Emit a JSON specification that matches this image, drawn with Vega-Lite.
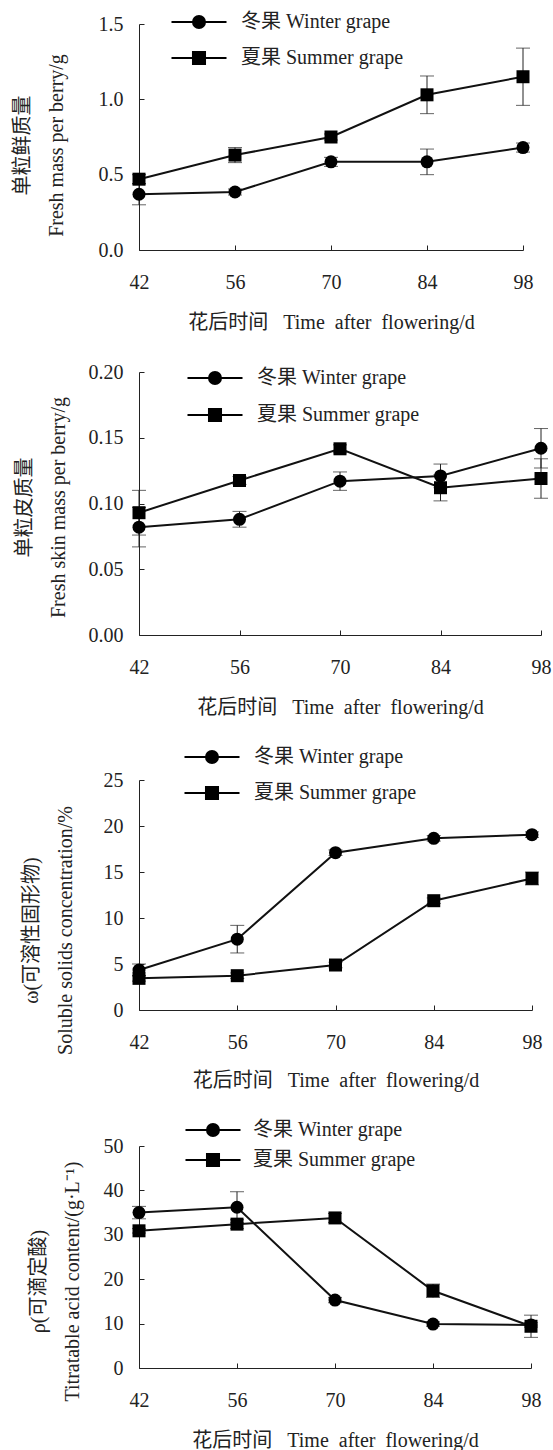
{
  "$schema": "https://vega.github.io/schema/vega-lite/v6.json",
  "background": "white",
  "padding": {"left": 12, "top": 12, "right": 0, "bottom": 0},
  "spacing": 30,
  "resolve": {"scale": {"shape": "independent"}, "legend": {"shape": "independent"}},
  "data": {"values": [
    {"panel": 1, "day": 42, "series": "冬果 Winter grape", "value": 0.37, "err": 0.07},
    {"panel": 1, "day": 56, "series": "冬果 Winter grape", "value": 0.385, "err": 0.02},
    {"panel": 1, "day": 70, "series": "冬果 Winter grape", "value": 0.585, "err": 0.03},
    {"panel": 1, "day": 84, "series": "冬果 Winter grape", "value": 0.585, "err": 0.085},
    {"panel": 1, "day": 98, "series": "冬果 Winter grape", "value": 0.68, "err": 0.03},
    {"panel": 1, "day": 42, "series": "夏果 Summer grape", "value": 0.47, "err": 0.03},
    {"panel": 1, "day": 56, "series": "夏果 Summer grape", "value": 0.63, "err": 0.05},
    {"panel": 1, "day": 70, "series": "夏果 Summer grape", "value": 0.75, "err": 0.02},
    {"panel": 1, "day": 84, "series": "夏果 Summer grape", "value": 1.03, "err": 0.125},
    {"panel": 1, "day": 98, "series": "夏果 Summer grape", "value": 1.15, "err": 0.19},
    {"panel": 2, "day": 42, "series": "冬果 Winter grape", "value": 0.082, "err": 0.015},
    {"panel": 2, "day": 56, "series": "冬果 Winter grape", "value": 0.088, "err": 0.006},
    {"panel": 2, "day": 70, "series": "冬果 Winter grape", "value": 0.117, "err": 0.007},
    {"panel": 2, "day": 84, "series": "冬果 Winter grape", "value": 0.121, "err": 0.009},
    {"panel": 2, "day": 98, "series": "冬果 Winter grape", "value": 0.142, "err": 0.015},
    {"panel": 2, "day": 42, "series": "夏果 Summer grape", "value": 0.093, "err": 0.017},
    {"panel": 2, "day": 56, "series": "夏果 Summer grape", "value": 0.1175, "err": 0.003},
    {"panel": 2, "day": 70, "series": "夏果 Summer grape", "value": 0.1416, "err": 0.003},
    {"panel": 2, "day": 84, "series": "夏果 Summer grape", "value": 0.112, "err": 0.01},
    {"panel": 2, "day": 98, "series": "夏果 Summer grape", "value": 0.119, "err": 0.015},
    {"panel": 3, "day": 42, "series": "冬果 Winter grape", "value": 4.35, "err": 0.65},
    {"panel": 3, "day": 56, "series": "冬果 Winter grape", "value": 7.7, "err": 1.5},
    {"panel": 3, "day": 70, "series": "冬果 Winter grape", "value": 17.1, "err": 0.3},
    {"panel": 3, "day": 84, "series": "冬果 Winter grape", "value": 18.66, "err": 0.3},
    {"panel": 3, "day": 98, "series": "冬果 Winter grape", "value": 19.06, "err": 0.3},
    {"panel": 3, "day": 42, "series": "夏果 Summer grape", "value": 3.44, "err": 0.3},
    {"panel": 3, "day": 56, "series": "夏果 Summer grape", "value": 3.73, "err": 0.3},
    {"panel": 3, "day": 70, "series": "夏果 Summer grape", "value": 4.89, "err": 0.3},
    {"panel": 3, "day": 84, "series": "夏果 Summer grape", "value": 11.88, "err": 0.3},
    {"panel": 3, "day": 98, "series": "夏果 Summer grape", "value": 14.3, "err": 0.7},
    {"panel": 4, "day": 42, "series": "冬果 Winter grape", "value": 35.0, "err": 1.4},
    {"panel": 4, "day": 56, "series": "冬果 Winter grape", "value": 36.2, "err": 3.5},
    {"panel": 4, "day": 70, "series": "冬果 Winter grape", "value": 15.3, "err": 0.6},
    {"panel": 4, "day": 84, "series": "冬果 Winter grape", "value": 9.9, "err": 0.5},
    {"panel": 4, "day": 98, "series": "冬果 Winter grape", "value": 9.7, "err": 0.5},
    {"panel": 4, "day": 42, "series": "夏果 Summer grape", "value": 30.9, "err": 0.5},
    {"panel": 4, "day": 56, "series": "夏果 Summer grape", "value": 32.4, "err": 1.0},
    {"panel": 4, "day": 70, "series": "夏果 Summer grape", "value": 33.8, "err": 1.0},
    {"panel": 4, "day": 84, "series": "夏果 Summer grape", "value": 17.4, "err": 1.5},
    {"panel": 4, "day": 98, "series": "夏果 Summer grape", "value": 9.4, "err": 2.5}
  ]},
  "vconcat": [
    {
      "width": 384, "height": 226,
      "transform": [{"filter": "datum.panel == 1"}],
      "encoding": {
        "x": {"field": "day", "type": "quantitative", "scale": {"domain": [42, 98], "nice": false, "zero": false}, "axis": {"values": [42, 56, 70, 84, 98], "title": "花后时间\u2002 Time\u00a0 after\u00a0 flowering/d"}},
        "y": {"field": "value", "type": "quantitative", "scale": {"domain": [0, 1.5], "nice": false}, "axis": {"values": [0, 0.5, 1, 1.5], "format": ".1f", "title": ["单粒鲜质量", "Fresh mass per berry/g"], "titlePadding": 32, "titleY": 121}}
      },
      "layer": [
        {"mark": {"type": "errorbar", "ticks": {"size": 14, "color": "#222"}, "rule": {"color": "#222", "strokeWidth": 1}}, "encoding": {"yError": {"field": "err"}, "detail": {"field": "series"}}},
        {"mark": {"type": "line", "color": "#111", "strokeWidth": 2}, "encoding": {"detail": {"field": "series"}}},
        {"transform": [{"filter": "datum.series === '冬果 Winter grape'"}], "mark": {"type": "circle", "size": 169, "color": "#000", "opacity": 1}},
        {"transform": [{"filter": "datum.series === '夏果 Summer grape'"}], "mark": {"type": "square", "size": 169, "color": "#000", "opacity": 1}},
        {"mark": {"type": "point", "filled": false, "fill": "#000", "stroke": "#000", "strokeWidth": 2, "opacity": 0, "size": 196},
         "encoding": {"shape": {"field": "series", "type": "nominal", "scale": {"domain": ["冬果 Winter grape", "夏果 Summer grape"], "range": ["M-3.93,0L3.93,0M0.86,0A0.86,0.86,0,1,1,-0.86,0A0.86,0.86,0,1,1,0.86,0Z", "M-3.93,0L3.93,0M-0.86,-0.86L0.86,-0.86L0.86,0.86L-0.86,0.86Z"]},
           "legend": {"orient": "none", "legendX": 22, "legendY": -12, "title": null, "rowPadding": 14, "labelOffset": 32}}}}
      ]
    },
    {
      "width": 402, "height": 263,
      "transform": [{"filter": "datum.panel == 2"}],
      "encoding": {
        "x": {"field": "day", "type": "quantitative", "scale": {"domain": [42, 98], "nice": false, "zero": false}, "axis": {"values": [42, 56, 70, 84, 98], "title": "花后时间\u2002 Time\u00a0 after\u00a0 flowering/d"}},
        "y": {"field": "value", "type": "quantitative", "scale": {"domain": [0, 0.2], "nice": false}, "axis": {"values": [0, 0.05, 0.1, 0.15, 0.2], "format": ".2f", "title": ["单粒皮质量", "Fresh skin mass per berry/g"], "titlePadding": 20, "titleY": 135}}
      },
      "layer": [
        {"mark": {"type": "errorbar", "ticks": {"size": 14, "color": "#222"}, "rule": {"color": "#222", "strokeWidth": 1}}, "encoding": {"yError": {"field": "err"}, "detail": {"field": "series"}}},
        {"mark": {"type": "line", "color": "#111", "strokeWidth": 2}, "encoding": {"detail": {"field": "series"}}},
        {"transform": [{"filter": "datum.series === '冬果 Winter grape'"}], "mark": {"type": "circle", "size": 169, "color": "#000", "opacity": 1}},
        {"transform": [{"filter": "datum.series === '夏果 Summer grape'"}], "mark": {"type": "square", "size": 169, "color": "#000", "opacity": 1}},
        {"mark": {"type": "point", "filled": false, "fill": "#000", "stroke": "#000", "strokeWidth": 2, "opacity": 0, "size": 196},
         "encoding": {"shape": {"field": "series", "type": "nominal", "scale": {"domain": ["冬果 Winter grape", "夏果 Summer grape"], "range": ["M-3.93,0L3.93,0M0.86,0A0.86,0.86,0,1,1,-0.86,0A0.86,0.86,0,1,1,0.86,0Z", "M-3.93,0L3.93,0M-0.86,-0.86L0.86,-0.86L0.86,0.86L-0.86,0.86Z"]},
           "legend": {"orient": "none", "legendX": 38, "legendY": -4, "title": null, "rowPadding": 15, "labelOffset": 32}}}}
      ]
    },
    {
      "width": 393, "height": 230,
      "transform": [{"filter": "datum.panel == 3"}],
      "encoding": {
        "x": {"field": "day", "type": "quantitative", "scale": {"domain": [42, 98], "nice": false, "zero": false}, "axis": {"values": [42, 56, 70, 84, 98], "title": "花后时间\u2002 Time\u00a0 after\u00a0 flowering/d", "titlePadding": 18}},
        "y": {"field": "value", "type": "quantitative", "scale": {"domain": [0, 25], "nice": false}, "axis": {"values": [0, 5, 10, 15, 20, 25], "format": "d", "title": ["ω(可溶性固形物)", "Soluble solids concentration/%"], "titlePadding": 28, "titleY": 150}}
      },
      "layer": [
        {"mark": {"type": "errorbar", "ticks": {"size": 14, "color": "#222"}, "rule": {"color": "#222", "strokeWidth": 1}}, "encoding": {"yError": {"field": "err"}, "detail": {"field": "series"}}},
        {"mark": {"type": "line", "color": "#111", "strokeWidth": 2}, "encoding": {"detail": {"field": "series"}}},
        {"transform": [{"filter": "datum.series === '冬果 Winter grape'"}], "mark": {"type": "circle", "size": 169, "color": "#000", "opacity": 1}},
        {"transform": [{"filter": "datum.series === '夏果 Summer grape'"}], "mark": {"type": "square", "size": 169, "color": "#000", "opacity": 1}},
        {"mark": {"type": "point", "filled": false, "fill": "#000", "stroke": "#000", "strokeWidth": 2, "opacity": 0, "size": 196},
         "encoding": {"shape": {"field": "series", "type": "nominal", "scale": {"domain": ["冬果 Winter grape", "夏果 Summer grape"], "range": ["M-3.93,0L3.93,0M0.86,0A0.86,0.86,0,1,1,-0.86,0A0.86,0.86,0,1,1,0.86,0Z", "M-3.93,0L3.93,0M-0.86,-0.86L0.86,-0.86L0.86,0.86L-0.86,0.86Z"]},
           "legend": {"orient": "none", "legendX": 35, "legendY": -33, "title": null, "rowPadding": 14, "labelOffset": 32}}}}
      ]
    },
    {
      "width": 392, "height": 222,
      "transform": [{"filter": "datum.panel == 4"}],
      "encoding": {
        "x": {"field": "day", "type": "quantitative", "scale": {"domain": [42, 98], "nice": false, "zero": false}, "axis": {"values": [42, 56, 70, 84, 98], "title": "花后时间\u2002 Time\u00a0 after\u00a0 flowering/d"}},
        "y": {"field": "value", "type": "quantitative", "scale": {"domain": [0, 50], "nice": false}, "axis": {"values": [0, 10, 20, 30, 40, 50], "format": "d", "title": ["ρ(可滴定酸)", "Titratable acid content/(g·L⁻¹)"], "titlePadding": 21, "titleY": 135}}
      },
      "layer": [
        {"mark": {"type": "errorbar", "ticks": {"size": 14, "color": "#222"}, "rule": {"color": "#222", "strokeWidth": 1}}, "encoding": {"yError": {"field": "err"}, "detail": {"field": "series"}}},
        {"mark": {"type": "line", "color": "#111", "strokeWidth": 2}, "encoding": {"detail": {"field": "series"}}},
        {"transform": [{"filter": "datum.series === '冬果 Winter grape'"}], "mark": {"type": "circle", "size": 169, "color": "#000", "opacity": 1}},
        {"transform": [{"filter": "datum.series === '夏果 Summer grape'"}], "mark": {"type": "square", "size": 169, "color": "#000", "opacity": 1}},
        {"mark": {"type": "point", "filled": false, "fill": "#000", "stroke": "#000", "strokeWidth": 2, "opacity": 0, "size": 196},
         "encoding": {"shape": {"field": "series", "type": "nominal", "scale": {"domain": ["冬果 Winter grape", "夏果 Summer grape"], "range": ["M-3.93,0L3.93,0M0.86,0A0.86,0.86,0,1,1,-0.86,0A0.86,0.86,0,1,1,0.86,0Z", "M-3.93,0L3.93,0M-0.86,-0.86L0.86,-0.86L0.86,0.86L-0.86,0.86Z"]},
           "legend": {"orient": "none", "legendX": 36, "legendY": -26, "title": null, "rowPadding": 8, "labelOffset": 30}}}}
      ]
    }
  ],
  "config": {
    "view": {"stroke": null},
    "font": "Liberation Serif, Noto Sans CJK SC",
    "axis": {
      "grid": false,
      "domainColor": "#222", "domainWidth": 1,
      "tickColor": "#222", "tickWidth": 1, "tickSize": -5,
      "labelFont": "Liberation Serif, Noto Sans CJK SC", "labelFontSize": 20, "labelColor": "#222",
      "titleFont": "Liberation Serif, Noto Sans CJK SC", "titleFontSize": 20, "titleFontWeight": "normal", "titleColor": "#222",
      "titleLineHeight": 34
    },
    "axisX": {"labelPadding": 27, "titlePadding": 20, "labelFlush": false},
    "axisY": {"labelPadding": 21},
    "legend": {
      "symbolSize": 196, "symbolOffset": 28, "symbolStrokeWidth": 2,
      "symbolOpacity": 1,
      "labelFont": "Liberation Serif, Noto Sans CJK SC", "labelFontSize": 20, "labelColor": "#222", "labelLimit": 400
    }
  }
}
